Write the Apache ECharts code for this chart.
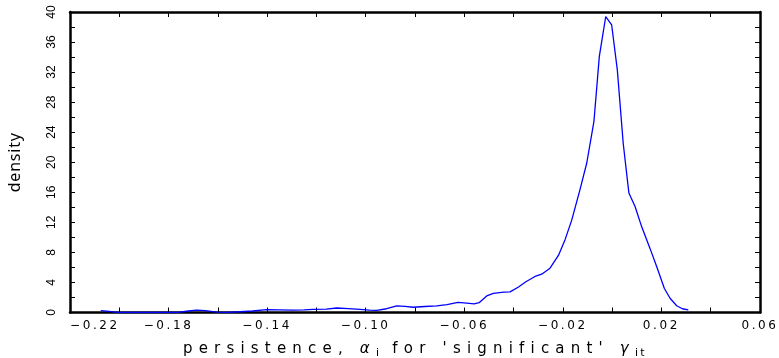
<!DOCTYPE html>
<html>
<head>
<meta charset="utf-8">
<script src="https://cdn.jsdelivr.net/npm/echarts@6/dist/echarts.min.js"></script>
<style>
  html, body { margin: 0; padding: 0; background: #fff; }
  #chart { width: 779px; height: 358px; }
</style>
</head>
<body>
<div id="chart"></div>
<script>
// Kernel density of the persistence estimates
const persistence = [
  -0.2075, -0.2040, -0.2010, -0.1950, -0.1850, -0.1760, -0.1720, -0.1686, -0.1650, -0.1605,
  -0.1560, -0.1510, -0.1460, -0.1402, -0.1350, -0.1295, -0.1250, -0.1214, -0.1160, -0.1118,
  -0.1070, -0.1023, -0.0985, -0.0955, -0.0915, -0.0874, -0.0840, -0.0808, -0.0760, -0.0712,
  -0.0670, -0.0626, -0.0590, -0.0560, -0.0540, -0.0509, -0.0482, -0.0440, -0.0414, -0.0380,
  -0.0350, -0.0313, -0.0286, -0.0252, -0.0218, -0.0191, -0.0164, -0.0131, -0.0103, -0.0074,
  -0.0052, -0.0026, -0.0002, 0.0021, 0.0045, 0.0068, 0.0093, 0.0120, 0.0154, 0.0181,
  0.0212, 0.0235, 0.0262, 0.0285, 0.0309
];
const density = [
  0.25, 0.15, 0.02, 0.0, 0.0, 0.02, 0.20, 0.32, 0.25, 0.05,
  0.02, 0.10, 0.20, 0.38, 0.36, 0.32, 0.36, 0.42, 0.45, 0.60,
  0.52, 0.42, 0.32, 0.27, 0.50, 0.88, 0.82, 0.70, 0.80, 0.88,
  1.05, 1.35, 1.25, 1.15, 1.30, 2.20, 2.55, 2.70, 2.75, 3.40,
  4.10, 4.80, 5.10, 5.90, 7.60, 9.70, 12.3, 16.3, 19.9, 25.4,
  34.1, 39.4, 38.3, 32.3, 22.5, 15.9, 14.1, 11.4, 8.5, 6.1,
  3.2, 1.9, 0.9, 0.5, 0.35
];

// Axis ranges and tick labels
const X_MIN = -0.22, X_MAX = 0.06, X_STEP = 0.02;
const Y_MIN = 0, Y_MAX = 40, Y_STEP = 2;
const xTickValues = [-0.22, -0.18, -0.14, -0.10, -0.06, -0.02, 0.02, 0.06];
const xTickLabels = ['\u22120.22', '\u22120.18', '\u22120.14', '\u22120.10', '\u22120.06', '\u22120.02', '0.02', '0.06'];
const yTickValues = [0, 4, 8, 12, 16, 20, 24, 28, 32, 36, 40];
const yTickLabels = ['0', '4', '8', '12', '16', '20', '24', '28', '32', '36', '40'];

// Wide, spaced lettering: extra letter spacing (px) keyed by "family size"
const LETTER_SPACING = { 'DejaVu Sans 12': 2.6, 'DejaVu Sans 15': 6.2, 'DejaVu Sans 11': 2.4, 'Noto Sans 16': 0.8 };
(function () {
  const proto = CanvasRenderingContext2D.prototype;
  const desc = Object.getOwnPropertyDescriptor(proto, 'font');
  if (!desc || !('letterSpacing' in proto)) return;
  Object.defineProperty(proto, 'font', {
    configurable: true,
    get() { return desc.get.call(this); },
    set(v) {
      desc.set.call(this, v);
      let sp = 0;
      const m = /(\d+(?:\.\d+)?)px\s+(.*)$/.exec(v || '');
      if (m) {
        const fam = m[2].replace(/["']/g, '').split(',')[0].trim();
        const key = fam + ' ' + Math.round(parseFloat(m[1]));
        if (LETTER_SPACING[key]) sp = LETTER_SPACING[key];
      }
      this.letterSpacing = sp.toFixed(2) + 'px';
    }
  });
})();

function lookup(values, labels, v) {
  for (let i = 0; i < values.length; i++) {
    if (Math.abs(values[i] - v) < 1e-9) return labels[i];
  }
  return '';
}

const AXIS_LINE = { show: true, onZero: false, lineStyle: { color: '#000', width: 2.5 } };
const AXIS_TICK = { show: true, inside: true, length: 5, lineStyle: { color: '#000', width: 1 } };

const chart = echarts.init(document.getElementById('chart'), null, { renderer: 'canvas' });
chart.setOption({
  animation: false,
  backgroundColor: '#fff',
  grid: { left: 70, right: 19, top: 12, bottom: 45.5, containLabel: false, outerBoundsMode: 'none' },
  xAxis: [
    {
      type: 'value', position: 'bottom', min: X_MIN, max: X_MAX, interval: X_STEP,
      axisLine: AXIS_LINE, axisTick: AXIS_TICK, splitLine: { show: false },
      axisLabel: {
        show: true, margin: 6, color: '#000', fontSize: 12, fontFamily: 'DejaVu Sans',
        showMinLabel: true, showMaxLabel: true, alignMinLabel: 'left',
        formatter: v => lookup(xTickValues, xTickLabels, v)
      },
      name: "{t|persistence, }{g|\u03b1}{s|i}{t| for 'significant' }{g|\u03b3}{s|it}",
      nameLocation: 'middle', nameGap: 26, nameMoveOverlap: false,
      nameTextStyle: {
        color: '#000',
        rich: {
          t: { fontSize: 15, fontFamily: 'DejaVu Sans', color: '#000' },
          g: { fontSize: 15, fontFamily: 'DejaVu Sans', fontStyle: 'italic', color: '#000' },
          s: { fontSize: 11, fontFamily: 'DejaVu Sans', color: '#000', padding: [8, 0, 0, 0] }
        }
      }
    },
    {
      type: 'value', position: 'top', min: X_MIN, max: X_MAX, interval: X_STEP,
      axisLine: AXIS_LINE, axisTick: AXIS_TICK, axisLabel: { show: false }, splitLine: { show: false }
    }
  ],
  yAxis: [
    {
      type: 'value', position: 'left', min: Y_MIN, max: Y_MAX, interval: Y_STEP,
      axisLine: AXIS_LINE, axisTick: AXIS_TICK, splitLine: { show: false },
      axisLabel: {
        show: true, rotate: 90, margin: 12, color: '#000', fontSize: 12, fontFamily: 'Liberation Sans',
        showMinLabel: true, showMaxLabel: true,
        formatter: v => lookup(yTickValues, yTickLabels, v)
      },
      name: 'density', nameLocation: 'middle', nameRotate: 90, nameGap: 46, nameMoveOverlap: false,
      nameTextStyle: { color: '#000', fontSize: 16, fontFamily: 'Noto Sans' }
    },
    {
      type: 'value', position: 'right', min: Y_MIN, max: Y_MAX, interval: Y_STEP,
      axisLine: AXIS_LINE, axisTick: AXIS_TICK, axisLabel: { show: false }, splitLine: { show: false }
    }
  ],
  series: [
    {
      type: 'line',
      xAxisIndex: 0, yAxisIndex: 0,
      data: persistence.map((x, i) => [x, density[i]]),
      showSymbol: false, smooth: false,
      lineStyle: { color: '#0000ff', width: 1.3 },
      silent: true
    }
  ]
});
</script>
</body>
</html>
